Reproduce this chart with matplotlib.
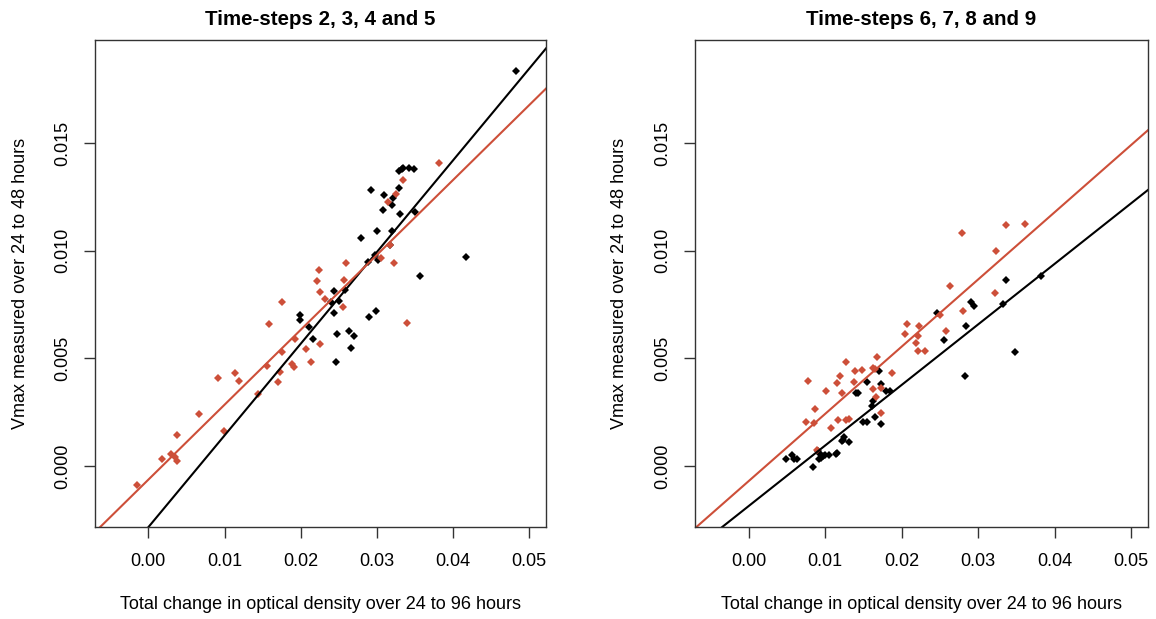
import numpy as np
import matplotlib
matplotlib.use("Agg")
import matplotlib.pyplot as plt

plt.rcParams['font.family'] = ['Liberation Sans', 'DejaVu Sans']

red = '#CD4F39'

# Time-steps 2, 3, 4 and 5
left_black_x = [0.04825, 0.03290, 0.03325, 0.03346, 0.03421, 0.03491, 0.02922, 0.03088, 0.03206, 0.03285,
                0.03075, 0.03202, 0.03298, 0.03504, 0.03005, 0.03198, 0.02791, 0.03167, 0.02975, 0.03014,
                0.02878, 0.04164, 0.03561, 0.02441, 0.02581, 0.02397, 0.02502, 0.02441, 0.01995, 0.01995,
                0.02113, 0.02161, 0.02900, 0.02983, 0.02480, 0.02629, 0.02703, 0.02655, 0.02467]
left_black_y = [0.01837, 0.01372, 0.01381, 0.01384, 0.01384, 0.01380, 0.01281, 0.01259, 0.01245, 0.01291,
                0.01192, 0.01212, 0.01171, 0.01180, 0.01093, 0.01091, 0.01059, 0.01025, 0.00981, 0.00958,
                0.00946, 0.00971, 0.00884, 0.00814, 0.00816, 0.00763, 0.00767, 0.00713, 0.00701, 0.00679,
                0.00647, 0.00592, 0.00693, 0.00718, 0.00614, 0.00625, 0.00606, 0.00547, 0.00481]
left_red_x = [0.03815, 0.03346, 0.03250, 0.03150, 0.03176, 0.03058, 0.03228, 0.02598, 0.02244, 0.02218,
              0.02568, 0.02253, 0.02314, 0.02555, 0.01754, 0.01584, 0.01925, 0.01754, 0.02069, 0.02257,
              0.02139, 0.01553, 0.01885, 0.01907, 0.01728, 0.01702, 0.01137, 0.00919, 0.01190, 0.01439,
              0.03390, 0.00661, 0.00989, 0.00381, 0.00179, 0.00297, 0.00350, 0.00381, -0.00149]
left_red_y = [0.01409, 0.01329, 0.01262, 0.01229, 0.01025, 0.00967, 0.00943, 0.00943, 0.00910, 0.00859,
              0.00864, 0.00809, 0.00775, 0.00741, 0.00760, 0.00659, 0.00591, 0.00529, 0.00544, 0.00567,
              0.00485, 0.00465, 0.00476, 0.00459, 0.00437, 0.00389, 0.00431, 0.00409, 0.00397, 0.00332,
              0.00664, 0.00243, 0.00164, 0.00143, 0.00031, 0.00056, 0.00043, 0.00023, -0.00090]

# Time-steps 6, 7, 8 and 9
right_black_x = [0.00488, 0.00562, 0.00593, 0.00632, 0.00841, 0.00902, 0.00937, 0.00919, 0.00950, 0.00972,
                 0.01002, 0.01054, 0.01146, 0.01150, 0.01224, 0.01251, 0.01237, 0.01307, 0.01403, 0.01434,
                 0.01495, 0.01551, 0.01551, 0.01621, 0.01617, 0.01647, 0.01704, 0.01730, 0.01734, 0.01800,
                 0.01852, 0.02466, 0.02558, 0.02841, 0.02911, 0.02946, 0.02828, 0.03320, 0.03364, 0.03477,
                 0.03821]
right_black_y = [0.00031, 0.00051, 0.00031, 0.00031, -0.00003, 0.00071, 0.00054, 0.00031, 0.00036, 0.00047,
                 0.00051, 0.00051, 0.00056, 0.00062, 0.00116, 0.00136, 0.00121, 0.00110, 0.00338, 0.00338,
                 0.00206, 0.00206, 0.00392, 0.00304, 0.00279, 0.00226, 0.00439, 0.00381, 0.00197, 0.00346,
                 0.00349, 0.00710, 0.00584, 0.00651, 0.00763, 0.00743, 0.00419, 0.00752, 0.00864, 0.00530,
                 0.00884]
right_red_x = [0.00776, 0.00749, 0.00854, 0.00867, 0.01007, 0.01072, 0.01155, 0.01190, 0.01216, 0.01172,
               0.01272, 0.01277, 0.01307, 0.01377, 0.01390, 0.01486, 0.01625, 0.01656, 0.01673, 0.01625,
               0.01669, 0.01730, 0.01725, 0.01869, 0.00898, 0.02044, 0.02070, 0.02187, 0.02209, 0.02231,
               0.02214, 0.02309, 0.02497, 0.02584, 0.02632, 0.02793, 0.02797, 0.03220, 0.03237, 0.03364,
               0.03612]
right_red_y = [0.00394, 0.00202, 0.00198, 0.00264, 0.00347, 0.00174, 0.00384, 0.00419, 0.00338, 0.00214,
               0.00484, 0.00214, 0.00217, 0.00388, 0.00439, 0.00447, 0.00454, 0.00450, 0.00504, 0.00358,
               0.00322, 0.00364, 0.00247, 0.00431, 0.00074, 0.00614, 0.00659, 0.00572, 0.00606, 0.00651,
               0.00533, 0.00533, 0.00701, 0.00629, 0.00837, 0.01084, 0.00718, 0.00805, 0.00997, 0.01118,
               0.01126]

# fitted lines (intercept, slope)
left_black_fit = (-0.00285, 0.4264)
left_red_fit = (-0.00064, 0.3483)
right_black_fit = (-0.00187, 0.2816)
right_red_fit = (-0.00071, 0.3126)

titles = ["Time-steps 2, 3, 4 and 5", "Time-steps 6, 7, 8 and 9"]
xticks = [0.00, 0.01, 0.02, 0.03, 0.04, 0.05]
yticks = [0.000, 0.005, 0.010, 0.015]

fig = plt.figure(figsize=(11.56, 6.19), dpi=100)
ax1 = fig.add_axes([95/1156, 1-527/619, 451/1156, 487/619])
ax2 = fig.add_axes([695/1156, 1-527/619, 453/1156, 487/619])

panels = [
    (ax1, left_black_x, left_black_y, left_red_x, left_red_y, left_black_fit, left_red_fit),
    (ax2, right_black_x, right_black_y, right_red_x, right_red_y, right_black_fit, right_red_fit),
]

for i, (ax, bx, by, rx, ry, bfit, rfit) in enumerate(panels):
    ax.plot(bx, by, 'D', color='black', ms=3.6, mew=0)
    ax.plot(rx, ry, 'D', color=red, ms=3.6, mew=0)
    ax.axline((0, bfit[0]), slope=bfit[1], color='black', lw=1.5)
    ax.axline((0, rfit[0]), slope=rfit[1], color=red, lw=1.5)

    ax.set_xlim(-0.0070, 0.0522)
    ax.set_ylim(-0.00284, 0.0198)
    ax.set_xticks(xticks)
    ax.set_xticklabels(["%.2f" % v for v in xticks])
    ax.set_yticks(yticks)
    ax.set_yticklabels(["%.3f" % v for v in yticks])
    ax.tick_params(axis='both', direction='out', length=8, width=1, labelsize=13, color='#333333')
    ax.tick_params(axis='x', pad=11)
    ax.tick_params(axis='y', pad=9, labelrotation=90)
    for lab in ax.get_yticklabels():
        lab.set_va('center')
    for sp in ax.spines.values():
        sp.set_color('#333333')
        sp.set_linewidth(1)

    ax.set_title(titles[i], fontsize=14.8, fontweight='bold', y=1.043, pad=0, va='center')
    ax.set_xlabel("Total change in optical density over 24 to 96 hours", fontsize=13, va='center')
    ax.xaxis.set_label_coords(0.5, -0.160)
    ax.set_ylabel("Vmax measured over 24 to 48 hours", fontsize=13, va='center')
    ax.yaxis.set_label_coords(-0.166, 0.5)

fig.savefig("out.png", dpi=100)
